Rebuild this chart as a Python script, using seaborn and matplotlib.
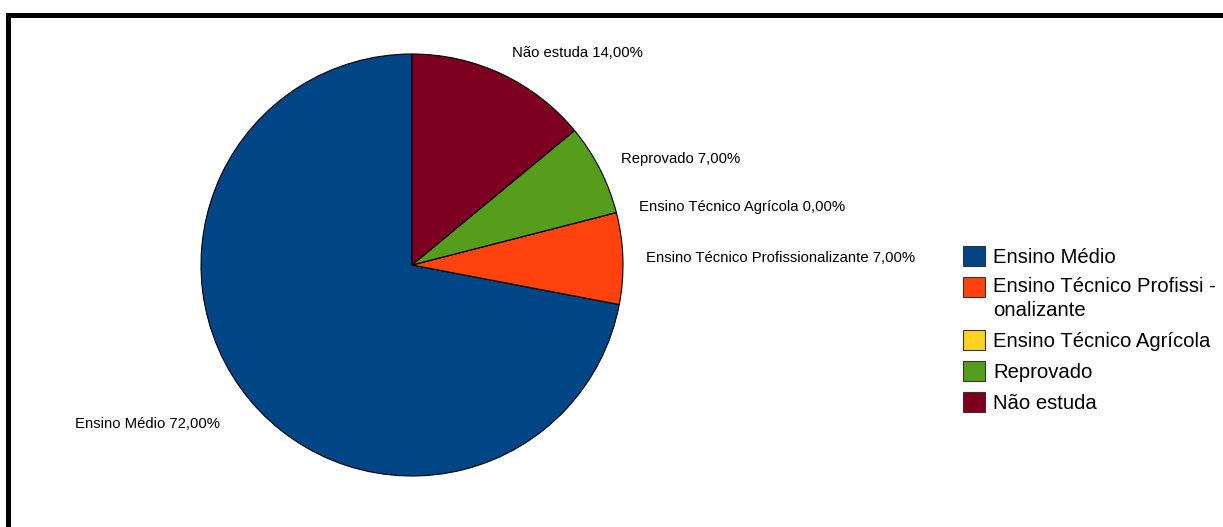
import matplotlib
matplotlib.use("Agg")
import matplotlib.pyplot as plt
from matplotlib.patches import Rectangle
import numpy as np
import seaborn as sns

# Student situation shares (%)
categories = [
    "Ensino Médio",
    "Ensino Técnico Profissionalizante",
    "Ensino Técnico Agrícola",
    "Reprovado",
    "Não estuda",
]
legend_labels = [
    "Ensino Médio",
    "Ensino Técnico Profissi -\nonalizante",
    "Ensino Técnico Agrícola",
    "Reprovado",
    "Não estuda",
]
shares = [72.0, 7.0, 0.0, 7.0, 14.0]
colors = ["#004586", "#ff420e", "#ffd320", "#579d1c", "#7e0021"]

sns.set_theme(style="white")
plt.rcParams["font.family"] = ["Liberation Sans", "DejaVu Sans"]

W, H = 1223, 527
fig = plt.figure(figsize=(W / 100, H / 100), dpi=100)
fig.patch.set_facecolor("white")

# pie axes: centre (412, 265) px, radius 211 px
cx, cy, r = 412, 265, 211
ax = fig.add_axes([(cx - r) / W, (H - cy - r) / H, 2 * r / W, 2 * r / H])
palette = sns.color_palette(colors)
wedges, _ = ax.pie(
    shares,
    colors=palette,
    startangle=90,
    counterclock=True,
    wedgeprops=dict(edgecolor="black", linewidth=0.8),
)
ax.set_xlim(-1, 1)
ax.set_ylim(-1, 1)
ax.set_aspect("equal")
ax.axis("off")

# value labels outside each wedge, at the wedge's mid angle
label_dist = [1.18, 1.11, 1.11, 1.11, 1.11]
for w, name, val, d in zip(wedges, categories, shares, label_dist):
    mid = np.deg2rad((w.theta1 + w.theta2) / 2)
    x, y = d * np.cos(mid), d * np.sin(mid)
    txt = f"{name} {val:.2f}%".replace(".", ",")
    ax.text(x, y, txt, ha="left" if x > 0 else "right", va="center",
            fontsize=10.7, color="black", clip_on=False)

leg = fig.legend(
    wedges, legend_labels,
    loc="upper left",
    bbox_to_anchor=(963 / W, 1 - 246 / H),
    frameon=False,
    fontsize=14.6,
    labelcolor="black",
    handlelength=1.08,
    handleheight=1.14,
    handletextpad=0.4,
    labelspacing=0.5,
    borderpad=0,
    borderaxespad=0,
)
for t in leg.get_texts():
    t.set_linespacing(1.35)
for h, lab in zip(leg.legend_handles, legend_labels):
    h.set_edgecolor("#333333")
    h.set_linewidth(0.8)
    # keep the swatch level with the first line of a wrapped label
    extra_lines = lab.count("\n")
    if extra_lines:
        h.set_y(h.get_y() + extra_lines * 9)

# black frame along the top and left edges
fig.add_artist(Rectangle((6 / W, 1 - 18 / H), 1 - 6 / W, 5 / H,
                         transform=fig.transFigure, color="black", lw=0))
fig.add_artist(Rectangle((6 / W, 0), 5 / W, 1 - 13 / H,
                         transform=fig.transFigure, color="black", lw=0))

fig.savefig("out.png", dpi=100, facecolor="white")
